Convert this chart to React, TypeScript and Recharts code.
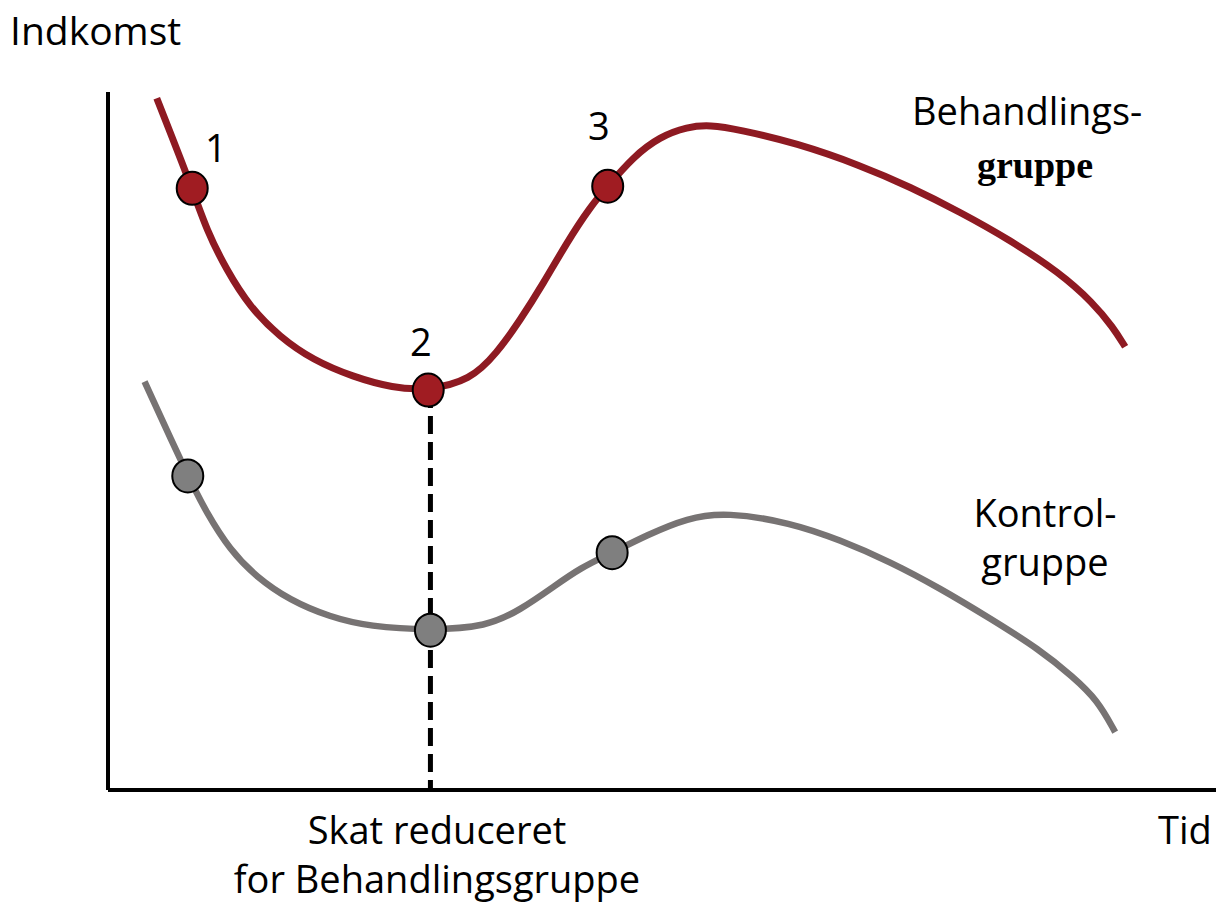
import React from "react";
import { ComposedChart, Line, Scatter, XAxis, YAxis, ReferenceLine } from "recharts";

// Time (0-100) and income (0-100)
const treatmentT = [4.4, 7.6, 8.9, 10.7, 12.8, 15.5, 18.5, 22.1, 25.7, 28.9, 32.7, 35.1, 37.2, 39.3, 41.4, 43.5, 45.1, 47.4, 49.8, 52.3, 54.3, 57.0, 62.1, 67.9, 72.4, 76.9, 81.4, 85.9, 88.9, 90.7, 91.8];
const treatmentV = [99.1, 86.2, 80.2, 74.5, 69.2, 64.9, 61.6, 59.2, 57.6, 57.3, 58.7, 62.6, 67.3, 72.6, 78.4, 83.5, 86.5, 90.7, 93.6, 95.0, 95.3, 94.6, 92.7, 89.5, 86.4, 82.8, 78.8, 74.1, 69.8, 66.3, 63.5];
const controlT = [3.3, 7.2, 8.9, 11.0, 13.4, 16.4, 20.0, 23.6, 29.1, 34.2, 37.2, 40.2, 42.6, 45.5, 48.6, 52.3, 55.8, 61.6, 66.1, 70.6, 75.1, 79.6, 84.1, 87.1, 89.3, 90.9];
const controlV = [58.5, 45.0, 39.7, 34.4, 30.5, 27.2, 24.8, 23.4, 22.9, 23.4, 25.8, 29.1, 31.8, 34.0, 36.5, 39.0, 39.8, 38.3, 35.8, 32.7, 28.9, 24.6, 20.1, 16.2, 12.9, 8.3];
const treatmentDotT = [7.6, 28.9, 45.1];
const treatmentDotV = [86.2, 57.3, 86.5];
const controlDotT = [7.2, 29.1, 45.5];
const controlDotV = [45.0, 22.9, 34.0];
const taxCutT = 29.1;
const taxCutTop = 57.3;

const zip = (ts: number[], vs: number[]) => ts.map((t, i) => ({ t, v: vs[i] }));
const treatmentData = zip(treatmentT, treatmentV);
const controlData = zip(controlT, controlV);
const treatmentDots = zip(treatmentDotT, treatmentDotV);
const controlDots = zip(controlDotT, controlDotV);
const taxCutData = [{ t: taxCutT, v: taxCutTop }, { t: taxCutT, v: 0 }];

const RED = "#8e1a22";
const RED_DOT = "#a01c22";
const GRAY = "#777373";
const GRAY_DOT = "#7f7f7f";
const FONT = "'Open Sans', 'Noto Sans', sans-serif";

const makeDot = (fill: string) => (props: any) => (
  <ellipse cx={props.cx} cy={props.cy} rx={15.5} ry={16.5} fill={fill} stroke="#000" strokeWidth={2} />
);

const txt = (s: string, left: number, top: number, extra: React.CSSProperties = {}) => (
  <div style={{ position: "absolute", left, top, fontFamily: FONT, fontSize: 38, lineHeight: 1, color: "#000", whiteSpace: "nowrap", ...extra }}>{s}</div>
);

export default function App() {
  return (
    <div style={{ position: "absolute", left: 0, top: 0, width: 1216, height: 903, background: "#fff" }}>
      <ComposedChart width={1216} height={903} margin={{ top: 92, left: 78, right: 0, bottom: 83 }}>
        <XAxis type="number" dataKey="t" domain={[0, 100]} allowDataOverflow tick={false} tickLine={false} height={30} axisLine={false} />
        <YAxis type="number" dataKey="v" domain={[0, 100]} allowDataOverflow tick={false} tickLine={false} width={30} axisLine={false} />
        <ReferenceLine x={0} stroke="#000" strokeWidth={4} ifOverflow="visible" />
        <ReferenceLine y={0} stroke="#000" strokeWidth={4} ifOverflow="visible" />
        <Line data={treatmentData} dataKey="v" type="basis" stroke={RED} strokeWidth={7} dot={false} isAnimationActive={false} />
        <Line data={controlData} dataKey="v" type="basis" stroke={GRAY} strokeWidth={6.5} dot={false} isAnimationActive={false} />
        <Line data={taxCutData} dataKey="v" type="linear" stroke="#000" strokeWidth={5} strokeDasharray="18 8" dot={false} isAnimationActive={false} />
        <Scatter data={treatmentDots} dataKey="v" shape={makeDot(RED_DOT)} isAnimationActive={false} />
        <Scatter data={controlDots} dataKey="v" shape={makeDot(GRAY_DOT)} isAnimationActive={false} />
      </ComposedChart>
      {txt("Indkomst", 10, 10, { fontSize: 39 })}
      {txt("1", 205, 128)}
      {txt("2", 410, 322)}
      {txt("3", 588, 106)}
      {txt("Behandlings-", 912, 91)}
      <div style={{ position: "absolute", left: 0, width: 2070, top: 146, textAlign: "center", fontFamily: "'Liberation Serif', serif", fontWeight: "bold", fontSize: 38, lineHeight: 1 }}>gruppe</div>
      <div style={{ position: "absolute", left: 900, width: 290, top: 488, textAlign: "center", fontFamily: FONT, fontSize: 38, lineHeight: 1.3 }}>Kontrol-<br />gruppe</div>
      {txt("Tid", 1158, 810)}
      <div style={{ position: "absolute", left: 137, width: 600, top: 805, textAlign: "center", fontFamily: FONT, fontSize: 38, lineHeight: 1.3 }}>Skat reduceret<br />for Behandlingsgruppe</div>
    </div>
  );
}
